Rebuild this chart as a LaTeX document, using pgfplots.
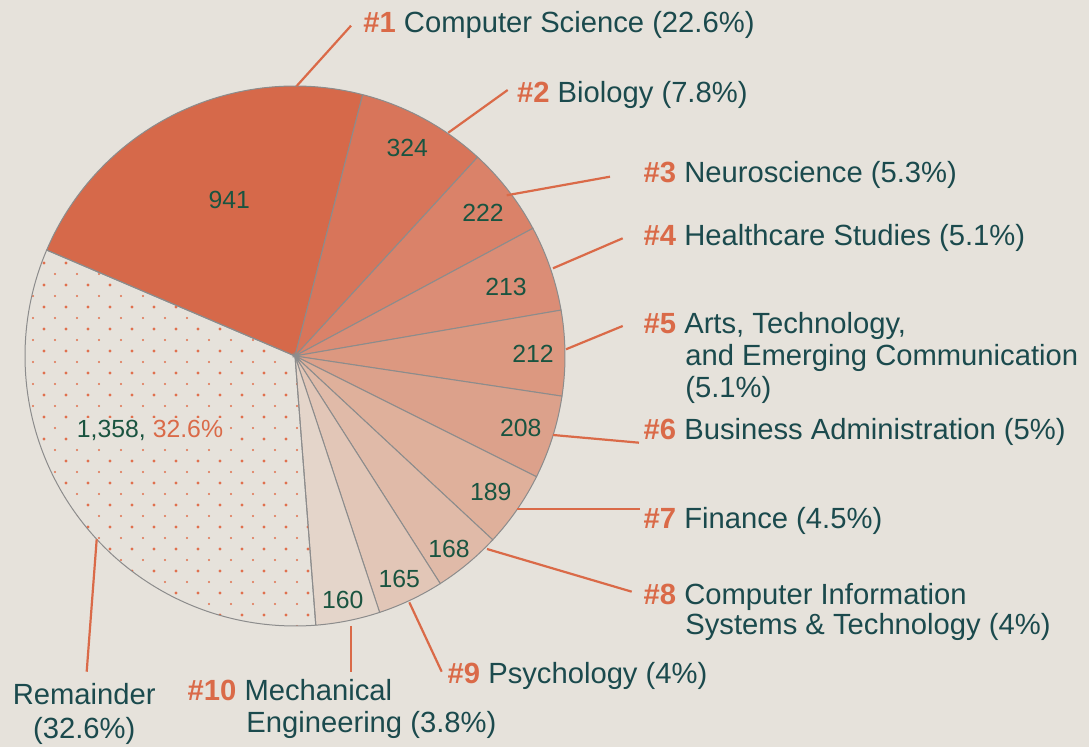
\documentclass[border=0pt]{standalone}
\usepackage{pgfplots}
\pgfplotsset{compat=1.18}
\usepackage{fontspec}
\setmainfont{Liberation Sans}
\usetikzlibrary{patterns.meta}

\definecolor{bg}{HTML}{E6E2DB}
\definecolor{accent}{HTML}{DA6A48}
\definecolor{teal}{HTML}{1B4A4D}
\definecolor{numgreen}{HTML}{1A5440}
\definecolor{slicegray}{HTML}{8C8C8C}
\definecolor{dotor}{HTML}{E0704E}
\definecolor{s1}{HTML}{D6694A}
\definecolor{s2}{HTML}{D8755A}
\definecolor{s3}{HTML}{DA8269}
\definecolor{s4}{HTML}{DB8D76}
\definecolor{s5}{HTML}{DC9880}
\definecolor{s6}{HTML}{DCA18B}
\definecolor{s7}{HTML}{DFB09B}
\definecolor{s8}{HTML}{E0BAA8}
\definecolor{s9}{HTML}{E2C6B7}
\definecolor{s10}{HTML}{E4D5CA}

\newcommand\lab{\fontsize{14.6}{16}\selectfont}
\newcommand\num{\fontsize{12.4}{14}\selectfont}

\begin{document}
\begin{tikzpicture}
\begin{axis}[
  scale only axis, width=544.5pt, height=373.5pt,
  xmin=0, xmax=1089, ymin=0, ymax=747, y dir=reverse,
  hide axis, clip=false,
]
\fill[bg] (axis cs:0,0) rectangle (axis cs:1089,747);
\def\cx{295}\def\cy{356}\def\R{270}\def\total{4160}\def\startang{156.9}
\def\cum{0}
\pgfplotsforeachungrouped \v/\col in {941/s1,324/s2,222/s3,213/s4,212/s5,208/s6,189/s7,168/s8,165/s9,160/s10}{%
  \pgfmathsetmacro\a{\startang-\cum/\total*360}%
  \pgfmathsetmacro\b{\startang-(\cum+\v)/\total*360}%
  \edef\temp{\noexpand\addplot[fill=\col, draw=slicegray, line width=0.5pt, domain=\b:\a, samples=80] ({\cx+\R*cos(x)},{\cy-\R*sin(x)}) -- (axis cs:\cx,\cy) -- cycle;}%
  \temp
  \pgfmathsetmacro\cum{\cum+\v}%
}
% remainder (large and small dots)
\pgfmathsetmacro\a{\startang-\cum/\total*360}
\pgfmathsetmacro\b{\startang-(\cum+1358)/\total*360}
\edef\temp{\noexpand\addplot[pattern={Dots[distance=11pt, radius=0.8pt]}, pattern color=dotor, draw=none, domain=\b:\a, samples=120] ({\cx+\R*cos(x)},{\cy-\R*sin(x)}) -- (axis cs:\cx,\cy) -- cycle;}
\temp
\edef\temp{\noexpand\addplot[pattern={Dots[distance=11pt, radius=0.55pt, xshift=5.5pt, yshift=5.5pt]}, pattern color=dotor, draw=slicegray, line width=0.5pt, domain=\b:\a, samples=120] ({\cx+\R*cos(x)},{\cy-\R*sin(x)}) -- (axis cs:\cx,\cy) -- cycle;}
\temp

% leader lines
\addplot[accent, line width=1.1pt] coordinates {(296.7,86) (351,25.7)};
\addplot[accent, line width=1.1pt] coordinates {(448.3,132.7) (507.7,90)};
\addplot[accent, line width=1.1pt] coordinates {(506.7,195.3) (610,176.7)};
\addplot[accent, line width=1.1pt] coordinates {(553,268.3) (622.7,238.3)};
\addplot[accent, line width=1.1pt] coordinates {(566,349.3) (622.7,326)};
\addplot[accent, line width=1.1pt] coordinates {(553,435) (639,442.7)};
\addplot[accent, line width=1.1pt] coordinates {(517,509.3) (640,509.3)};
\addplot[accent, line width=1.1pt] coordinates {(487,549) (631.7,591.7)};
\addplot[accent, line width=1.1pt] coordinates {(409.3,602.3) (441.7,671.7)};
\addplot[accent, line width=1.1pt] coordinates {(350.7,626) (350.7,671.7)};
\addplot[accent, line width=1.1pt] coordinates {(96.7,539.3) (86.7,671.7)};

% slice values
\node[text=numgreen, font=\num] at (axis cs:229.3,200) {941};
\node[text=numgreen, font=\num] at (axis cs:407.3,148.3) {324};
\node[text=numgreen, font=\num] at (axis cs:483,213) {222};
\node[text=numgreen, font=\num] at (axis cs:506,287) {213};
\node[text=numgreen, font=\num] at (axis cs:533,354) {212};
\node[text=numgreen, font=\num] at (axis cs:520.7,427.7) {208};
\node[text=numgreen, font=\num] at (axis cs:490.7,491.7) {189};
\node[text=numgreen, font=\num] at (axis cs:449,549.3) {168};
\node[text=numgreen, font=\num] at (axis cs:399.3,579.3) {165};
\node[text=numgreen, font=\num] at (axis cs:342.7,600) {160};
\node[text=numgreen, font=\num, fill=bg, inner sep=1pt] at (axis cs:150,430) {1,358, \textcolor{accent}{32.6\%}};

% category labels
\tikzset{cat/.style={anchor=base west, text=teal, font=\lab, inner sep=0pt}}
\node[cat] at (axis cs:363,33) {\textcolor{accent}{\bfseries\#1} Computer Science (22.6\%)};
\node[cat] at (axis cs:516.7,103) {\textcolor{accent}{\bfseries\#2} Biology (7.8\%)};
\node[cat] at (axis cs:643.3,182.3) {\textcolor{accent}{\bfseries\#3} Neuroscience (5.3\%)};
\node[cat] at (axis cs:643.3,246) {\textcolor{accent}{\bfseries\#4} Healthcare Studies (5.1\%)};
\node[cat] at (axis cs:643.3,333.3) {\textcolor{accent}{\bfseries\#5} Arts, Technology,};
\node[cat] at (axis cs:685,365.5) {and Emerging Communication};
\node[cat] at (axis cs:685,398) {(5.1\%)};
\node[cat] at (axis cs:643.3,440) {\textcolor{accent}{\bfseries\#6} Business Administration (5\%)};
\node[cat] at (axis cs:643.3,528.3) {\textcolor{accent}{\bfseries\#7} Finance (4.5\%)};
\node[cat] at (axis cs:643.3,605) {\textcolor{accent}{\bfseries\#8} Computer Information};
\node[cat] at (axis cs:685,634.5) {Systems \& Technology (4\%)};
\node[cat] at (axis cs:447.3,683.3) {\textcolor{accent}{\bfseries\#9} Psychology (4\%)};
\node[cat] at (axis cs:187.3,701) {\textcolor{accent}{\bfseries\#10} Mechanical};
\node[cat] at (axis cs:246,732.3) {Engineering (3.8\%)};
\node[cat, anchor=base] at (axis cs:84.2,705) {Remainder};
\node[cat, anchor=base] at (axis cs:84.2,739) {(32.6\%)};
\end{axis}
\pgfresetboundingbox
\path[use as bounding box] (current axis.south west) rectangle (current axis.north east);
\end{tikzpicture}
\end{document}
